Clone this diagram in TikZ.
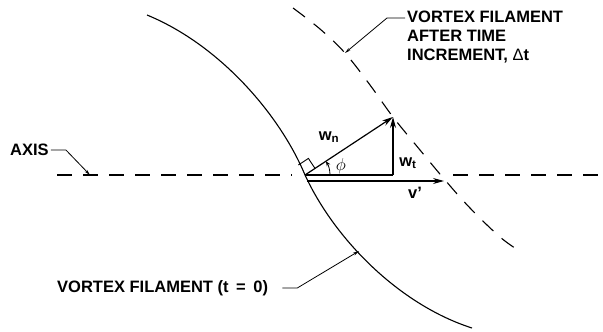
\documentclass[tikz,border=0pt]{standalone}
\usepackage{fontspec}
\setmainfont{Liberation Sans}
\usetikzlibrary{arrows.meta}
\begin{document}
\begin{tikzpicture}[x=1pt,y=-1pt,
  lbl/.style={font=\bfseries\fontsize{16.5}{19}\selectfont, inner sep=0pt},
  curve/.style={line width=1.1pt},
  dashcurve/.style={line width=1.1pt, dash pattern=on 15pt off 11pt},
  vec/.style={line width=1.2pt, -{Stealth[length=11pt,width=6pt]}},
  leader/.style={line width=0.8pt, -{Stealth[length=6pt,width=3pt]}}]
\useasboundingbox (0,0) rectangle (603,332);
% key points
\coordinate (O) at (305,175);
\coordinate (T) at (393,117);
\coordinate (B) at (393,175);
\coordinate (V0) at (307,181);
\coordinate (V1) at (444,181);
\coordinate (axispt) at (90,175);
\coordinate (afterpt) at (345,53);
\coordinate (solidpt) at (359,251);
% solid filament
\draw[curve] (147,15) .. controls (220,45) and (280,115) .. (O)
                      .. controls (335,240) and (400,305) .. (472,328);
% dashed filament
\draw[dashcurve] plot[smooth, tension=0.6] coordinates {(293,8) (320,29) (345,53) (370,85) (393,117) (420,150) (445,180) (470,208) (500,237) (521,252)};
% axis
\draw[dashcurve] (57,175) -- (292,175);
\draw[dashcurve] (453,175) -- (603,175);
% vectors
\draw[line width=1.1pt] (O) -- (B);
\draw[vec] (O) -- (T);
\draw[vec] (B) -- (T);
\draw[vec] (V0) -- (V1);
% right angle mark
\draw[line width=0.9pt] (O) ++(10,-6.6) -- ++(-6.6,-10) -- ++(-10,6.6);
% phi arc
\draw[line width=0.8pt, -{Stealth[length=5pt,width=4pt]}] (O) ++(25,0) arc[start angle=0, end angle=-33.4, radius=25];
\node[inner sep=0pt, font=\fontsize{16}{16}\selectfont] (phi) at (341,166) {$\phi$};
% vector labels
\node[lbl] (wn) at (329,137) {w\textsubscript{n}};
\node[lbl] (wt) at (408,163) {w\textsubscript{t}};
\node[lbl] (vp) at (415,193) {v’};
% labels
\node[lbl, anchor=west] (axis) at (10,150) {AXIS};
\node[lbl, anchor=north west, align=left] (after) at (407,11) {VORTEX FILAMENT\\AFTER TIME\\INCREMENT, {\mdseries Δ}t};
\node[lbl, anchor=west] (t0) at (57,288) {VORTEX FILAMENT (t\hspace{3pt} = \hspace{3pt}0)};
% leaders
\draw[leader] ([xshift=2pt]axis.east) -- ++(15,0) -- (axispt);
\draw[leader] ([xshift=-2pt,yshift=-7pt]after.north west) -- ++(-18,0) -- (afterpt);
\draw[leader] ([xshift=14pt]t0.east) -- ++(15,0) -- (solidpt);
\end{tikzpicture}
\end{document}
